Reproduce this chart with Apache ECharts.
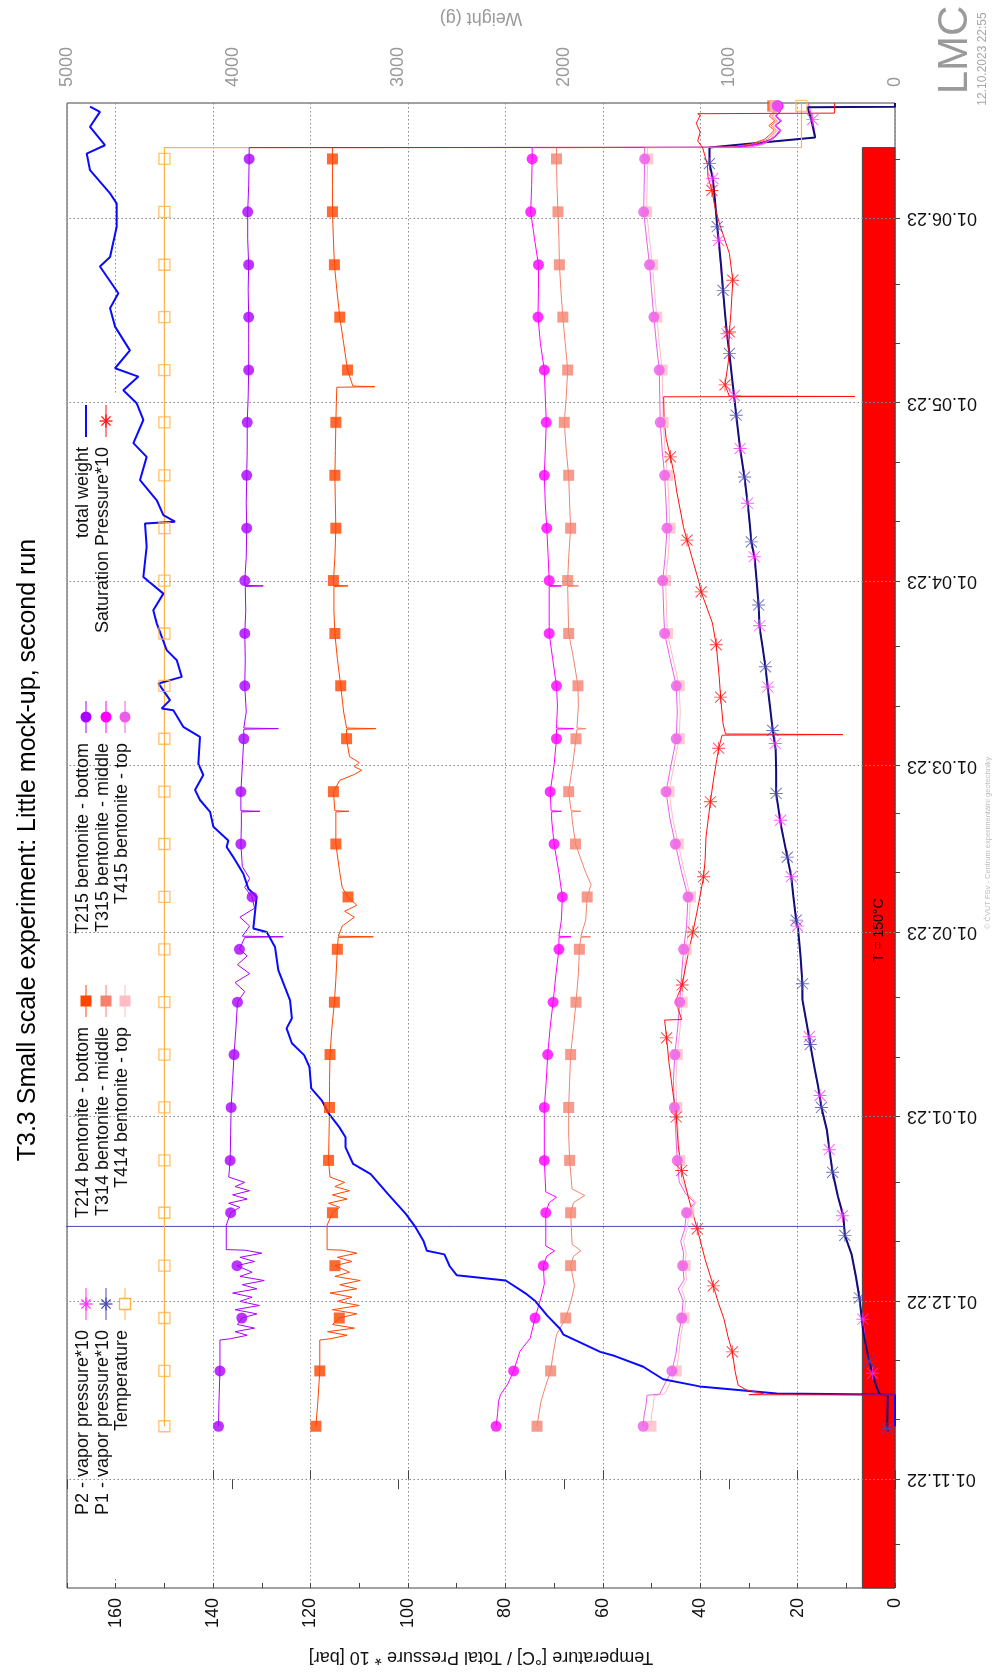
<!DOCTYPE html>
<html><head><meta charset="utf-8">
<script src="https://cdn.jsdelivr.net/npm/echarts@6/dist/echarts.min.js"></script>
<style>html,body{margin:0;padding:0;background:#fff}#c{width:992px;height:1673px}</style>
</head><body><div id="c"></div>
<script>
// ---------- data (days since 01.11.2022) ----------
const dayMin = -18.3, dayMax = 231.4;
const monthDays = [0, 30, 61, 92, 120, 151, 181, 212];
const monthLabels = ['01.11.22','01.12.22','01.01.23','01.02.23','01.03.23','01.04.23','01.05.23','01.06.23'];
const tickDays = [-11,0,10,20,30,40,50,61,71,81,92,102,112,120,130,140,151,161,171,181,191,201,212,222];
const heatEndDay = 223.9;
const heatBarTemp = 6.7;
const heatLabelPos = [3.35, 92.3];

const markDaysT = [8.9,18.2,27.1,35.9,44.8,53.6,62.5,71.4,80.2,89.1,97.9,106.8,115.6,124.5,133.4,142.2,151.1,159.9,168.8,177.7,186.5,195.4,204.2,213.1,222.0,230.9];
const p1MarkDays = [8.5,19.8,30.5,41.0,51.6,62.5,73.1,83.3,94.0,104.6,115.3,125.9,136.6,147.0,157.6,168.5,178.9,189.3,199.9,210.6,221.2];
const p2MarkDays = [17.8,26.9,44.3,55.4,64.5,74.4,93.0,101.3,110.8,123.7,133.2,143.5,155.1,164.1,173.3,182.2,192.6,208.3,218.7,228.6];
const satMarkDays = [21.4,32.5,42.1,51.9,60.9,74.2,83.1,92.0,101.3,113.9,122.9,131.5,140.3,149.2,157.9,171.9,184.0,192.9,201.6,216.7];

const tempC = [[8.9,150],[18.2,150],[27.1,150],[35.9,150],[44.8,150],[53.6,150],[62.5,150],[71.4,150],[80.2,150],[89.1,150],[97.9,150],[106.8,150],[115.6,150],[124.5,150],[133.4,150],[142.2,150],[151.1,150],[159.9,150],[168.8,150],[177.7,150],[186.5,150],[195.4,150],[204.2,150],[213.1,150],[222.0,150],[223.9,150],[223.95,19.2],[230.9,19.2],[231.4,19.2]];

const t215 = [[8.9,138.9],[13,138.8],[18.2,138.6],[23.4,138.6],[23.6,136.5],[24.2,133],[24.8,135.5],[25.4,131.5],[26,135],[27.1,134.1],[27.8,131],[28.5,135.5],[29.2,130.5],[29.9,134.5],[30.6,132],[31.3,136],[32,131],[32.7,134],[33.4,129.5],[34.1,134.5],[34.8,132],[35.9,135.1],[36.6,131.5],[37.3,134.5],[38,130],[38.5,133.5],[38.6,137.3],[42.7,137.3],[44.8,136.4],[45.7,134.5],[46.4,136.8],[47.1,133],[47.8,136],[48.5,132.5],[49.2,135.5],[49.9,133.5],[50.8,136.8],[53.6,136.5],[58,136.4],[62.5,136.3],[67,136],[71.4,135.7],[76,135.3],[80.2,135.0],[82,133.5],[83.5,135.5],[85,132.5],[86.5,135],[88,133],[89.1,134.6],[91.1,133.5],[91.2,125.6],[91.3,134],[93,132.5],[94.5,134.5],[96,131.5],[97.9,132.0],[99.5,133.5],[101,132.5],[103,134],[106.8,134.3],[110,134.2],[112.2,134.2],[112.3,130.4],[112.4,134.3],[115.6,134.3],[120,134],[124.5,133.7],[126.1,133.7],[126.2,126.6],[126.3,133.7],[129,133.2],[133.4,133.5],[138,133.4],[142.2,133.5],[146,133.3],[150.1,133.4],[150.2,129.7],[150.3,133.5],[151.1,133.5],[155,133.2],[159.9,133.1],[164,133.2],[168.8,133.1],[173,133.0],[177.7,133.0],[182,132.8],[186.5,132.7],[191,132.7],[195.4,132.7],[200,132.8],[204.2,132.7],[208.5,132.9],[213.1,132.9],[217.5,132.7],[222.0,132.6],[223.9,132.6],[223.95,33],[224.5,28],[225.3,25.5],[226,24.4],[226.8,23.6],[227.6,24.6],[228.4,23.5],[229.2,24.5],[230,23.6],[230.9,24.1],[231.4,24.3]];

const t214 = [[8.9,118.9],[13,118.5],[18.2,118.1],[23.4,118.1],[23.6,116],[24.2,112.5],[24.8,116.5],[25.4,111],[26,115.5],[27.1,114.1],[27.8,110.5],[28.5,115.5],[29.2,110],[29.9,114.5],[30.6,111.5],[31.3,116],[32,110.5],[32.7,114],[33.4,109.8],[34.1,115],[34.8,112],[35.9,115.0],[36.6,111.5],[37.3,114.5],[38,110.5],[38.5,113.5],[38.6,116.6],[42.7,116.6],[44.8,115.5],[45.7,114],[46.4,116.3],[47.1,112.5],[47.8,115.5],[48.5,112],[49.2,115],[49.9,113],[50.8,116],[53.6,116.3],[58,116.2],[62.5,116.1],[67,116.1],[71.4,116.0],[76,115.6],[80.2,115.1],[84,114.8],[89.1,114.5],[91.1,114.3],[91.2,107.1],[91.3,114.3],[93,113.5],[94.5,111],[95.5,113],[96.5,110.5],[97.9,112.3],[99.5,113.5],[102,114],[106.8,114.8],[110,114.8],[112.2,114.8],[112.3,112.1],[112.4,115],[115.6,115.3],[117.5,114],[118.5,111],[119.2,109.5],[119.8,111],[120.5,110],[121.5,112],[124.5,112.6],[126.1,112.6],[126.2,106.6],[126.3,112.6],[129,113.2],[133.4,113.8],[138,114.5],[142.2,115.0],[146,115.2],[150.1,115.2],[150.2,112.3],[150.3,115.3],[151.1,115.3],[155,115],[159.9,114.8],[164,114.9],[168.8,115.0],[173,114.9],[177.7,114.8],[181,114.7],[183.6,114.6],[183.7,106.8],[183.8,111.3],[186.5,112.4],[191,113.2],[195.4,114.0],[200,114.6],[204.2,115.1],[208.5,115.3],[213.1,115.5],[217.5,115.5],[222.0,115.5],[223.9,115.5],[223.95,34],[224.5,29.5],[225.3,26.8],[226,25.8],[226.8,24.8],[227.6,25.9],[228.4,24.7],[229.2,25.8],[230,24.8],[230.9,25.1],[231.4,25.3]];

const t315 = [[8.9,81.9],[11,81.6],[13.1,81.4],[14.2,81.0],[16,79.5],[18.2,78.3],[21.5,77.0],[23.7,74.9],[27.1,73.9],[30.5,72.7],[32.8,72.0],[35.9,72.2],[37.5,71.5],[38.4,69.9],[39.2,71.7],[44.8,71.7],[46.5,71],[47.4,69.5],[48.3,71.7],[53.6,72.0],[58,72],[62.5,72.0],[67,71.6],[71.4,71.3],[76,70.8],[80.2,70.2],[85,69.6],[89.1,69.0],[91.1,69],[91.2,66.5],[91.3,69],[94,68.5],[97.9,68.3],[102,69],[106.8,70.0],[111,70.5],[112.2,70.5],[112.3,68.5],[112.4,70.6],[115.6,70.8],[120,70],[124.5,69.5],[126.1,69.5],[126.2,66],[126.3,69.5],[130,69.3],[133.4,69.5],[138,70.3],[142.2,71.0],[146,71],[150.1,71],[150.2,68.5],[150.3,71],[151.1,71.0],[155,71.2],[159.9,71.5],[164,71.8],[168.8,72.0],[173,71.8],[177.7,71.6],[182,71.8],[186.5,72.0],[191,72.8],[195.4,73.3],[200,73.2],[204.2,73.2],[208.5,74],[213.1,74.8],[217.5,74.6],[222.0,74.5],[223.9,74.5],[223.95,32],[224.5,27.5],[225.3,25.2],[226,24.2],[226.8,23.4],[227.6,24.5],[228.4,23.3],[229.2,24.4],[230,23.5],[230.9,24.0],[231.4,24.2]];

const t314 = [[8.9,73.5],[11,73.1],[13,72.7],[15.5,71.8],[18.2,70.7],[21,70.2],[24.3,69.5],[27.1,67.6],[30,66.5],[32.5,65.8],[35.9,66.6],[37.5,66],[38.4,64.5],[39.5,66.3],[44.8,66.6],[46.5,66],[47.7,63.7],[48.8,66.3],[53.6,66.8],[58,67],[62.5,67.0],[67,66.8],[71.4,66.6],[76,66],[80.2,65.5],[85,65],[89.1,64.8],[91.1,64.5],[91.2,62.5],[91.3,64.5],[94,63.5],[97.9,63.2],[100,62.4],[102,63.5],[106.8,65.6],[111,66.3],[112.2,66.4],[112.3,64.5],[112.4,66.5],[115.6,67.0],[120,66.2],[124.5,65.5],[126.1,65.3],[126.2,63.5],[126.3,65.3],[130,65],[133.4,65.1],[138,66],[142.2,67.0],[146,67.1],[150.1,67.2],[150.2,65],[150.3,67.2],[151.1,67.2],[155,67],[159.9,66.6],[164,66.8],[168.8,67.0],[173,67.5],[177.7,67.9],[182,67.5],[186.5,67.2],[191,67.7],[195.4,68.2],[200,68.6],[204.2,68.9],[208.5,69],[213.1,69.2],[217.5,69.4],[222.0,69.5],[223.9,69.5],[223.95,33],[224.5,28.8],[225.3,26.2],[226,25.3],[226.8,24.4],[227.6,25.4],[228.4,24.3],[229.2,25.3],[230,24.4],[230.9,24.8],[231.4,25.0]];

const t415 = [[8.9,51.7],[10.8,51.5],[12,51.2],[14.1,50.9],[14.3,48.3],[16,47.3],[18.2,45.8],[21,45],[24,44.5],[27.1,43.8],[30,43.5],[32,44.5],[33.5,43.3],[35.9,43.6],[38,43.4],[40,44],[42,43.2],[44.8,42.8],[46.5,41.1],[48,43],[50,44.3],[53.6,44.7],[58,45],[62.5,45.3],[67,45.5],[71.4,45.2],[76,44.6],[80.2,44.2],[85,43.8],[89.1,43.4],[93,42.8],[97.9,42.5],[102,43.8],[106.8,45.1],[111,46.2],[115.6,47.0],[120,46],[124.5,44.9],[129,44.7],[133.4,44.9],[138,46.2],[142.2,47.3],[146,47.5],[151.1,47.7],[155,47.2],[159.9,46.8],[164,47],[168.8,47.3],[173,47.8],[177.7,48.2],[182,48.3],[186.5,48.4],[191,49],[195.4,49.5],[200,50],[204.2,50.4],[208.5,51],[213.1,51.6],[217.5,51.5],[222.0,51.4],[223.9,51.4],[223.95,30],[224.5,27],[225.3,25.3],[226,24.5],[226.8,23.7],[227.6,24.7],[228.4,23.6],[229.2,24.6],[230,23.7],[230.9,24.2],[231.4,24.4]];

const t414 = [[8.9,50.1],[10.8,50.0],[12,49.7],[14.1,49.4],[14.3,47.3],[16,46.3],[18.2,44.9],[21,44.4],[24,44.0],[27.1,43.3],[30,43.0],[32,43.8],[33.5,42.8],[35.9,43.1],[38,42.9],[40,43.4],[42,42.7],[44.8,42.3],[46.5,40.8],[48,42.5],[50,43.7],[53.6,44.2],[58,44.5],[62.5,44.8],[67,45.0],[71.4,44.7],[76,44.1],[80.2,43.7],[85,43.3],[89.1,42.9],[93,42.3],[97.9,42.0],[102,43.2],[106.8,44.5],[111,45.6],[115.6,46.4],[120,45.4],[124.5,44.3],[129,44.1],[133.4,44.3],[138,45.6],[142.2,46.7],[146,46.9],[151.1,47.1],[155,46.6],[159.9,46.2],[164,46.4],[168.8,46.7],[173,47.2],[177.7,47.6],[182,47.7],[186.5,47.8],[191,48.4],[195.4,48.9],[200,49.4],[204.2,49.8],[208.5,50.4],[213.1,51.0],[217.5,50.9],[222.0,50.8],[223.9,50.8],[223.95,31],[224.5,27.6],[225.3,25.7],[226,24.9],[226.8,24.1],[227.6,25.1],[228.4,24.0],[229.2,25.0],[230,24.1],[230.9,24.6],[231.4,24.8]];

const p1 = [[8.0,1.4],[8.5,1.6],[14.1,1.5],[14.2,3.1],[15.5,3.8],[17.4,4.5],[19.8,5.3],[24.7,6.5],[30.5,7.3],[34,8.0],[37.8,8.9],[41.0,10.3],[44.3,10.6],[47.5,11.7],[51.6,12.8],[55,13.4],[58.8,14.0],[62.5,15.1],[66.1,15.8],[69.5,16.6],[73.1,17.4],[76.5,18.1],[80.6,19.0],[83.3,19.0],[88,19.4],[92.5,19.9],[94.0,20.3],[97.5,20.8],[101.3,21.3],[104.6,22.1],[109.8,23.4],[115.3,24.4],[119,24.4],[122.7,24.5],[125.9,25.1],[129.5,25.6],[132.9,26.1],[136.6,26.6],[140,27.2],[143.2,27.8],[147.0,28.0],[151,28.4],[154.8,28.8],[157.6,29.5],[160.5,29.8],[163.8,30.2],[168.5,30.9],[173.3,31.8],[178.9,32.6],[184,33.3],[189.3,34.0],[192.6,34.5],[196,34.9],[199.9,35.3],[204,35.7],[208.3,36.2],[210.6,36.5],[214.5,36.9],[218.7,37.4],[221.2,38.1],[223.9,38.1],[225.6,16.4],[228.6,17.2],[230.7,18.0],[230.75,0],[231.4,0]];
const p1Spike = [[42.5,10.4],[42.5,175]];

const p2 = [[8.0,1.5],[14.1,1.6],[14.2,3.2],[15.5,3.9],[17.8,4.6],[20.5,5.5],[24,6.2],[26.9,6.6],[30.5,7.4],[34,8.1],[37.8,9.0],[41,10.2],[44.3,10.8],[48,11.9],[51.6,12.9],[55.4,13.5],[58.8,14.1],[61.5,14.9],[64.5,15.4],[68,16.3],[71,17.0],[74.4,17.6],[78,18.5],[81,19.1],[85,19.2],[89,19.5],[93.0,20.0],[97,20.7],[101.3,21.3],[104.6,22.1],[107.5,22.8],[110.8,23.5],[115,24.4],[119,24.4],[123.7,24.6],[127,25.3],[130,25.7],[133.2,26.1],[137,26.7],[140,27.2],[143.5,27.8],[147,28.1],[151,28.4],[155.1,28.9],[158,29.5],[161,29.9],[164.1,30.3],[168.5,31.0],[173.3,31.8],[178,32.5],[182.2,33.0],[186,33.6],[189.3,34.1],[192.6,34.5],[196,34.9],[200,35.4],[204,35.8],[208.3,36.2],[212,36.6],[215,37.0],[218.7,37.4],[221.2,38.0],[223.9,38.0],[225.6,16.3],[228.6,16.9],[231.4,17.8]];

const sat = [[14.15,0],[14.2,30],[14.4,27],[15.0,30.5],[15.8,32.2],[18,32.8],[21.4,33.4],[24,34.3],[26.9,35.1],[29.5,36.2],[32.5,37.3],[37,39],[42.1,40.6],[47,42.3],[51.9,43.8],[56,44.5],[60.9,44.9],[65,45.6],[70,46.4],[74.2,46.9],[77.2,47.3],[77.3,43.8],[79,44.5],[80.5,45.0],[83.1,43.7],[87,42.8],[92.0,41.5],[96,40.5],[101.3,39.3],[104,39],[108,38.8],[113.9,37.9],[118,37.2],[122.9,36.2],[125.1,35.5],[125.2,10.7],[125.3,34.8],[127,35.3],[131.5,35.8],[135,36.1],[140.3,36.7],[144,37.5],[149.2,39.8],[151,40.3],[157.9,42.7],[160,43.4],[163,44.1],[166,44.8],[168.8,45.3],[171.9,46.1],[175,47],[178,47.4],[182.0,47.5],[182.05,8.2],[182.1,34],[184.0,34.9],[188,34.2],[192.9,34.0],[196,33.7],[201.6,33.3],[206.1,34.0],[211,36],[214,37],[216.7,37.6],[219,38.4],[221,38.5],[223.9,39.5],[225,40.5],[226.5,40],[228,40.8],[229.3,40],[229.6,40.5],[229.7,12.4],[231.4,12.4]];

const weight = [[8.9,0],[14.2,0],[14.25,91],[14.4,714],[15.6,1180],[16.8,1400],[18.9,1520],[20.7,1691],[21.4,1780],[24.3,2002],[25.3,2023],[27.5,2100],[29.9,2171],[31.1,2224],[33.4,2351],[34.3,2647],[35.8,2689],[37.8,2721],[38.4,2827],[40.1,2848],[42.6,2901],[44.6,2954],[47.9,3060],[51.3,3166],[53.0,3272],[55.8,3318],[57.5,3318],[59.2,3356],[61.5,3420],[63.7,3462],[65.7,3525],[69.3,3536],[71.3,3568],[73.3,3642],[75.8,3674],[77.5,3642],[80.5,3653],[85.6,3724],[89.5,3744],[92.0,3794],[92.6,3875],[97.9,3855],[99.3,3905],[101.8,3935],[104.6,3996],[106.3,4036],[107.4,4026],[109.7,4116],[112.2,4136],[114.2,4197],[115.9,4227],[118.4,4177],[120.3,4207],[124.8,4197],[126.5,4298],[129.3,4358],[129.6,4428],[131.0,4378],[133.8,4448],[134.9,4307],[137.7,4337],[139.4,4398],[143.9,4458],[146.1,4479],[148.9,4418],[151.7,4539],[156.8,4519],[160.7,4529],[161.0,4348],[162.1,4418],[164.6,4458],[168.0,4559],[171.9,4519],[174.2,4599],[178.1,4539],[180.9,4579],[183.1,4660],[185.4,4569],[186.8,4710],[189.8,4620],[193.8,4710],[196.9,4740],[199.4,4690],[203.9,4801],[205.5,4740],[210.6,4700],[214.5,4700],[216.2,4740],[220.1,4861],[222.9,4881],[224.3,4771],[227.4,4861],[229.9,4801],[230.8,4861]];

// ---------- chart ----------
const FONT = '"Liberation Sans", Arial, Helvetica, sans-serif';
const STAR = 'path://M0,9.3H20V10.7H0Z M9.3,0H10.7V20H9.3Z M1,2L2,1L19,18L18,19Z M18,1L19,2L2,19L1,18Z';
const C = {
  p2:'#FF33FF', p1line:'#10107A', p1mk:'#4A4AB0', temp:'#FFB347',
  t214:'#FF4500', t314:'#F4826E', t414:'#FFBCC4',
  t215:'#AA00FF', t315:'#FF00FF', t415:'#EC5CEC',
  weight:'#0A0AFF', sat:'#FF1010', spike:'#4848C8'
};

function ln(name, arr, color, width, xi) {
  return {name, type:'line', xAxisIndex: xi || 0, yAxisIndex: 0,
    data: arr.map(p => [p[1], p[0]]), symbol:'none', showSymbol:false,
    lineStyle:{color, width}, itemStyle:{color}, silent:true, animation:false, z:3};
}
function mk(name, arr, days, symbol, size, color, hollow) {
  return {name: name + ' pts', type:'scatter', xAxisIndex:0, yAxisIndex:0,
    data: arr.filter(p => days.includes(p[0])).map(p => [p[1], p[0]]),
    symbol, symbolSize:size,
    itemStyle: hollow ? {color:'rgba(255,255,255,0)', borderColor:color, borderWidth:1.3} : {color},
    silent:true, animation:false, z:4};
}

const option = {
  animation:false,
  backgroundColor:'#fff',
  textStyle:{fontFamily:FONT},
  grid:{left:67, right:97, top:103, bottom:85, show:true, borderColor:'#444', borderWidth:1, backgroundColor:'transparent', containLabel:false, outerBoundsMode:'none'},
  xAxis:[
    {type:'value', position:'bottom', inverse:true, min:0, max:170, interval:20,
     axisLine:{show:false}, axisTick:{show:true, inside:true, length:9, lineStyle:{color:'#444'}},
     axisLabel:{rotate:90, margin:10, fontSize:18, color:'#111', fontFamily:FONT, showMaxLabel:false, formatter:(v) => String(v)},
     splitLine:{show:true, lineStyle:{color:'#888', type:[1.5,2.5], width:1}},
     name:'Temperature [°C] / Total Pressure * 10 [bar]', nameLocation:'middle', nameRotate:180, nameGap:60,
     nameTextStyle:{fontSize:18, color:'#111', fontFamily:FONT}},
    {type:'value', position:'top', inverse:true, min:0, max:5000, interval:1000,
     axisLine:{show:false}, axisTick:{show:true, inside:true, length:10, lineStyle:{color:'#444'}},
     axisLabel:{rotate:90, margin:16, fontSize:18, color:'#9a9a9a', fontFamily:FONT, formatter:(v) => String(v)},
     splitLine:{show:false},
     name:'Weight (g)', nameLocation:'middle', nameRotate:180, nameGap:76,
     nameTextStyle:{fontSize:18, color:'#9a9a9a', fontFamily:FONT}},
    {type:'value', position:'bottom', inverse:true, min:0, max:170, interval:10,
     axisLine:{show:false}, axisTick:{show:true, inside:true, length:5, lineStyle:{color:'#444'}},
     axisLabel:{show:false}, splitLine:{show:false}}
  ],
  yAxis:[
    {type:'value', position:'right', min:dayMin, max:dayMax,
     axisLine:{show:false}, axisTick:{show:false, customValues:monthDays},
     axisLabel:{customValues:monthDays, rotate:180, margin:12, fontSize:18, color:'#111', fontFamily:FONT,
       formatter:(v) => { const i = monthDays.indexOf(Math.round(v)); return i >= 0 ? monthLabels[i] : ''; }},
     splitLine:{show:false}},
    {type:'value', position:'left', min:dayMin, max:dayMax, z:5,
     axisLine:{show:false}, axisTick:{show:true, inside:true, length:5, customValues:tickDays, lineStyle:{color:'#444'}},
     axisLabel:{show:false}, splitLine:{show:false}}
  ],
  series:[
    {name:'grid dates', type:'line', data:[], z:1, silent:true,
     markLine:{silent:true, symbol:['none','none'], label:{show:false}, animation:false,
       lineStyle:{color:'#888', type:[1.5,2.5], width:1},
       data: monthDays.map(d => ({yAxis:d}))}},
    {name:'heating bar', type:'line', data:[], z:2, silent:true,
     markArea:{silent:true, animation:false, itemStyle:{color:'#FF0000', borderColor:'#444', borderWidth:1},
       data:[[{coord:[0, dayMin]}, {coord:[heatBarTemp, heatEndDay]}]]}},
    ln('P2 - vapor pressure*10', p2, C.p2, 1),
    ln('P1 - vapor pressure*10', p1, C.p1line, 2),
    ln('P1 spike', p1Spike, C.spike, 1),
    ln('Temperature', tempC, C.temp, 1.2),
    ln('T214 bentonite - bottom', t214, C.t214, 1),
    ln('T314 bentonite - middle', t314, C.t314, 1),
    ln('T414 bentonite - top', t414, C.t414, 1),
    ln('T215 bentonite - bottom', t215, C.t215, 1),
    ln('T315 bentonite - middle', t315, C.t315, 1),
    ln('T415 bentonite - top', t415, C.t415, 1),
    ln('total weight', weight, C.weight, 2, 1),
    ln('Saturation Pressure*10', sat, C.sat, 1),
    mk('P2', p2, p2MarkDays, STAR, 13, C.p2),
    mk('P1', p1, p1MarkDays, STAR, 13, C.p1mk),
    mk('Temperature', tempC, markDaysT, 'rect', 11, C.temp, true),
    mk('T214', t214, markDaysT, 'rect', 11, C.t214),
    mk('T314', t314, markDaysT, 'rect', 11, C.t314),
    mk('T414', t414, markDaysT, 'rect', 11, C.t414),
    mk('T215', t215, markDaysT, 'circle', 11, C.t215),
    mk('T315', t315, markDaysT, 'circle', 11, C.t315),
    mk('T415', t415, markDaysT, 'circle', 11, C.t415),
    mk('Sat', sat, satMarkDays, STAR, 13, C.sat)
  ]
};

const chart = echarts.init(document.getElementById('c'), null, {renderer:'canvas', width:992, height:1673});
chart.setOption(option);

// ---------- texts & key (rotated page layout) ----------
const R = Math.PI / 2;
function txt(text, x, y, size, color, align, rot) {
  return {type:'text', x, y, rotation: rot == null ? R : rot, z:20, silent:true,
    style:{text, fill:color, font: size + 'px ' + FONT, align: align || 'center', verticalAlign:'middle'}};
}
function starG(x, y, r, color) {
  const d = r * 0.707;
  const segs = [[x-r, y, x+r, y], [x, y-r, x, y+r], [x-d, y-d, x+d, y+d], [x-d, y+d, x+d, y-d]];
  return segs.map(s => ({type:'line', z:21, silent:true, shape:{x1:s[0], y1:s[1], x2:s[2], y2:s[3]}, style:{stroke:color, lineWidth:1.3}}));
}
function keyEntry(label, endY, row, color, sym, lineW) {
  const rowsX = [86, 106, 125];
  const sx = rowsX[row], sy = endY - 26;
  const els = [txt(label, sx - 3, endY, 18, '#111', 'right')];
  els.push({type:'line', z:19, silent:true, shape:{x1:sx, y1:sy - 16, x2:sx, y2:sy + 16}, style:{stroke:color, lineWidth:lineW || 1}});
  if (sym === 'star') els.push(...starG(sx, sy, 6.5, color));
  else if (sym === 'circle') els.push({type:'circle', z:20, silent:true, shape:{cx:sx, cy:sy, r:5.5}, style:{fill:color}});
  else if (sym === 'rect') els.push({type:'rect', z:20, silent:true, shape:{x:sx-5.5, y:sy-5.5, width:11, height:11}, style:{fill:color}});
  else if (sym === 'orect') els.push({type:'rect', z:20, silent:true, shape:{x:sx-5.5, y:sy-5.5, width:11, height:11}, style:{fill:'#fff', stroke:color, lineWidth:1.3}});
  return els;
}
const keyEnds = [1330, 1027, 743, 447];
const heatPx = chart.convertToPixel({xAxisIndex:0, yAxisIndex:0}, heatLabelPos);
const graphics = [
  {type:'rect', z:1.5, silent:true, shape:{x:68, y:394, width:67, height:1184}, style:{fill:'#fff'}},
  txt('T3.3 Small scale experiment: Little mock-up, second run', 28, 850, 25, '#000'),
  txt('LMC', 955, 50, 42, '#9a9a9a'),
  txt('12.10.2023 22:55', 983, 59, 12, '#a8a8a8'),
  txt('© ČVUT FSv - Centrum experimentální geotechniky', 988, 843, 7.5, '#bdbdbd'),
  txt('T = 150°C', heatPx[0], heatPx[1], 14, '#000'),
  ...keyEntry('P2 - vapor pressure*10', keyEnds[0], 0, C.p2, 'star'),
  ...keyEntry('P1 - vapor pressure*10', keyEnds[0], 1, C.p1mk, 'star'),
  ...keyEntry('Temperature', keyEnds[0], 2, C.temp, 'orect'),
  ...keyEntry('T214 bentonite - bottom', keyEnds[1], 0, C.t214, 'rect'),
  ...keyEntry('T314 bentonite - middle', keyEnds[1], 1, C.t314, 'rect'),
  ...keyEntry('T414 bentonite - top', keyEnds[1], 2, C.t414, 'rect'),
  ...keyEntry('T215 bentonite - bottom', keyEnds[2], 0, C.t215, 'circle'),
  ...keyEntry('T315 bentonite - middle', keyEnds[2], 1, C.t315, 'circle'),
  ...keyEntry('T415 bentonite - top', keyEnds[2], 2, C.t415, 'circle'),
  ...keyEntry('total weight', keyEnds[3], 0, C.weight, 'none', 2),
  ...keyEntry('Saturation Pressure*10', keyEnds[3], 1, C.sat, 'star')
];
chart.setOption({graphic: graphics});
</script>
</body></html>
